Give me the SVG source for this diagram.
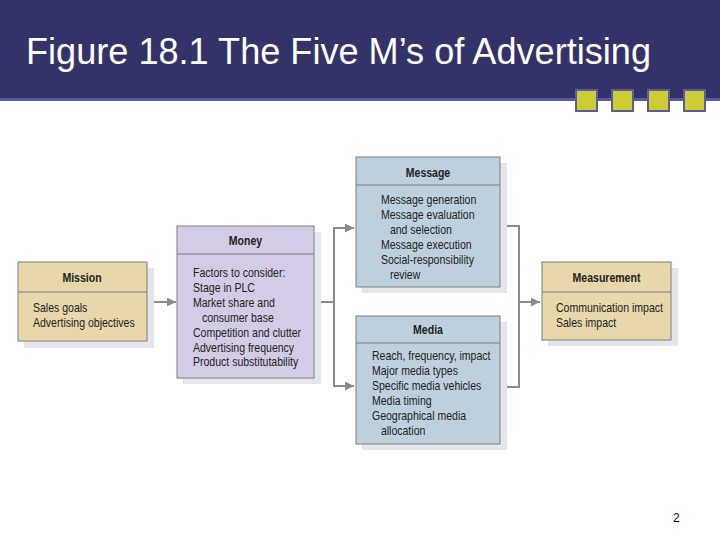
<svg xmlns="http://www.w3.org/2000/svg" width="720" height="540" viewBox="0 0 720 540">
<defs>
<style>
.box{stroke:#7d7d7d;stroke-width:1}
.tan{fill:#e7d7ab}
.lav{fill:#d4cce6}
.blue{fill:#bed0de}
.sh{fill:#e4e6ea}
.div{stroke:#7d7d7d;stroke-width:1}
.t{font-family:"Liberation Sans",Arial,sans-serif;font-size:13px;fill:#222}
.h{font-family:"Liberation Sans",Arial,sans-serif;font-size:13px;font-weight:bold;fill:#222;text-anchor:middle}
.c{fill:none;stroke:#8a8a8a;stroke-width:2}
.sq{fill:#cccc33;stroke:#5c5c9c;stroke-width:2}
</style>
<marker id="ah" viewBox="0 0 10 10" refX="10" refY="5" markerWidth="4.5" markerHeight="4.5" orient="auto" markerUnits="strokeWidth">
<path d="M0,0 L10,5 L0,10 z" fill="#8a8a8a"/>
</marker>
</defs>
<rect width="720" height="540" fill="#ffffff"/>
<g id="header">
<rect x="0" y="0" width="720" height="99" fill="#33336a"/>
<rect x="0" y="98" width="720" height="3" fill="#5a5aa3"/>
<text x="26" y="64" font-family="'Liberation Sans',Arial,sans-serif" font-size="36" fill="#ffffff" textLength="625" lengthAdjust="spacingAndGlyphs">Figure 18.1 The Five M’s of Advertising</text>
<rect class="sq" x="576" y="90" width="21" height="21"/>
<rect class="sq" x="612" y="90" width="21" height="21"/>
<rect class="sq" x="648" y="90" width="21" height="21"/>
<rect class="sq" x="684" y="90" width="21" height="21"/>
</g>
<g id="connectors">
<line class="c" x1="147" y1="302" x2="176" y2="302" marker-end="url(#ah)"/>
<polyline class="c" points="314,302 334,302"/>
<polyline class="c" points="334,228 334,386 354,386" marker-end="url(#ah)"/>
<line class="c" x1="333" y1="228" x2="354" y2="228" marker-end="url(#ah)"/>
<polyline class="c" points="500,226 519,226 519,387 500,387"/>
<line class="c" x1="519" y1="302" x2="540" y2="302" marker-end="url(#ah)"/>
</g>
<g id="mission">
<rect class="sh" x="24" y="268" width="130" height="80"/>
<rect class="box tan" x="18" y="262" width="129" height="79"/>
<line class="div" x1="18" y1="292" x2="147" y2="292"/>
<g transform="translate(82,0) scale(0.81,1)"><text class="h" x="0" y="282">Mission</text></g>
<g transform="translate(33,0) scale(0.81,1)">
<text class="t" x="0" y="312">Sales goals</text>
<text class="t" x="0" y="327">Advertising objectives</text>
</g>
</g>
<g id="money">
<rect class="sh" x="183" y="232" width="138" height="152"/>
<rect class="box lav" x="177" y="226" width="137" height="152"/>
<line class="div" x1="177" y1="254" x2="314" y2="254"/>
<g transform="translate(245.5,0) scale(0.81,1)"><text class="h" x="0" y="245">Money</text></g>
<g transform="translate(193,0) scale(0.81,1)">
<text class="t" x="0" y="277">Factors to consider:</text>
<text class="t" x="0" y="292">Stage in PLC</text>
<text class="t" x="0" y="307">Market share and</text>
<text class="t" x="11" y="322">consumer base</text>
<text class="t" x="0" y="337">Competition and clutter</text>
<text class="t" x="0" y="352">Advertising frequency</text>
<text class="t" x="0" y="366">Product substitutability</text>
</g>
</g>
<g id="message">
<rect class="sh" x="362" y="163" width="145" height="130"/>
<rect class="box blue" x="356" y="157" width="144" height="130"/>
<line class="div" x1="356" y1="185" x2="500" y2="185"/>
<g transform="translate(428,0) scale(0.81,1)"><text class="h" x="0" y="177">Message</text></g>
<g transform="translate(381,0) scale(0.81,1)">
<text class="t" x="0" y="204">Message generation</text>
<text class="t" x="0" y="219">Message evaluation</text>
<text class="t" x="11" y="234">and selection</text>
<text class="t" x="0" y="249">Message execution</text>
<text class="t" x="0" y="264">Social-responsibility</text>
<text class="t" x="11" y="279">review</text>
</g>
</g>
<g id="media">
<rect class="sh" x="362" y="322" width="145" height="128"/>
<rect class="box blue" x="356" y="316" width="144" height="128"/>
<line class="div" x1="356" y1="343" x2="500" y2="343"/>
<g transform="translate(428,0) scale(0.81,1)"><text class="h" x="0" y="334">Media</text></g>
<g transform="translate(372,0) scale(0.81,1)">
<text class="t" x="0" y="360">Reach, frequency, impact</text>
<text class="t" x="0" y="375">Major media types</text>
<text class="t" x="0" y="390">Specific media vehicles</text>
<text class="t" x="0" y="405">Media timing</text>
<text class="t" x="0" y="420">Geographical media</text>
<text class="t" x="11" y="435">allocation</text>
</g>
</g>
<g id="measurement">
<rect class="sh" x="548" y="268" width="130" height="78"/>
<rect class="box tan" x="542" y="262" width="129" height="78"/>
<line class="div" x1="542" y1="292" x2="671" y2="292"/>
<g transform="translate(606.5,0) scale(0.81,1)"><text class="h" x="0" y="282">Measurement</text></g>
<g transform="translate(556,0) scale(0.81,1)">
<text class="t" x="0" y="312">Communication impact</text>
<text class="t" x="0" y="327">Sales impact</text>
</g>
</g>
<text x="673" y="522" font-family="'Liberation Sans',Arial,sans-serif" font-size="12" fill="#000">2</text>
</svg>
